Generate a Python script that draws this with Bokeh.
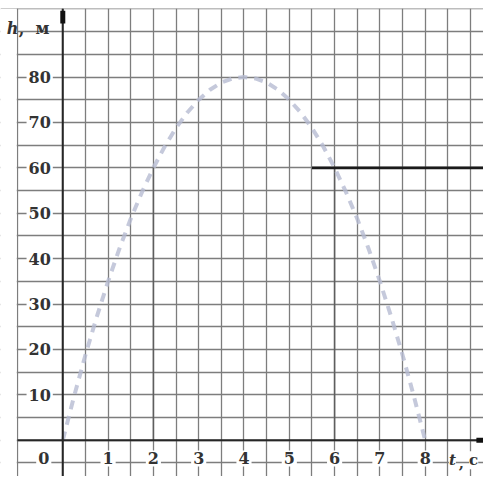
from bokeh.plotting import figure
from bokeh.models import Range1d, Grid, FixedTicker, Label, ColumnDataSource
from bokeh.core.properties import value
from bokeh.embed import file_html
from bokeh.resources import INLINE

# Data: h (m) vs t (s)
t_vals = [0, 0.25, 0.5, 0.75, 1, 1.25, 1.5, 1.75, 2, 2.25, 2.5, 2.75, 3, 3.25, 3.5, 3.75, 4,
          4.25, 4.5, 4.75, 5, 5.25, 5.5, 5.75, 6, 6.25, 6.5, 6.75, 7, 7.25, 7.5, 7.75, 8]
h_vals = [0, 9.7, 18.8, 27.2, 35, 42.2, 48.8, 54.7, 60, 64.7, 68.8, 72.2, 75, 77.2, 78.8, 79.7, 80,
          79.7, 78.8, 77.2, 75, 72.2, 68.8, 64.7, 60, 54.7, 48.8, 42.2, 35, 27.2, 18.8, 9.7, 0]

level_h = 60          # marked height
level_t_start = 5.5   # thick line at 60 starts here

x_tick_vals = [1, 2, 3, 4, 5, 6, 7, 8]
x_tick_labels = ["1", "2", "3", "4", "5", "6", "7", "8"]
y_tick_vals = [10, 20, 30, 40, 50, 60, 70, 80]
y_tick_labels = ["10", "20", "30", "40", "50", "60", "70", "80"]

x_grid = [-1] + [k * 0.5 for k in range(0, 19)]
y_grid = [k * 5 for k in range(-1, 20)]

X0, X1 = -1.375, 9.287
Y0, Y1 = -7.98, 95.1
GRID_LEFT = -1.0

p = figure(width=483, height=476, x_range=Range1d(X0, X1), y_range=Range1d(Y0, Y1),
           x_axis_type=None, y_axis_type=None, toolbar_location=None,
           output_backend="svg", min_border_left=0, min_border_right=0,
           min_border_top=8, min_border_bottom=0)
p.outline_line_color = None
p.background_fill_color = "white"
p.border_fill_color = "white"

grid_color = "#7d7d7d"
p.add_layout(Grid(dimension=0, ticker=FixedTicker(ticks=x_grid),
                  grid_line_color=grid_color, grid_line_width=1.3))
p.add_layout(Grid(dimension=1, ticker=FixedTicker(ticks=y_grid),
                  grid_line_color=grid_color, grid_line_width=1.3))

# blank margin left of the grid's border
p.quad(left=[X0], right=[GRID_LEFT - 0.016], bottom=[Y0], top=[Y1],
       fill_color="white", line_color=None)

# projection lines from the 60 m level
p.segment(x0=[2, 6], y0=[0, 0], x1=[2, 6], y1=[level_h, level_h],
          line_color="#5e5e5e", line_width=1.5)
# thick line at h = 60
p.segment(x0=[level_t_start], y0=[level_h], x1=[X1], y1=[level_h],
          line_color="#1a1a1a", line_width=2.6)

# curve
p.line(t_vals, h_vals, line_color="#b6bbd2", line_width=4, line_dash="9 7", line_alpha=0.8)

# axes
p.segment(x0=[0], y0=[Y0], x1=[0], y1=[Y1], line_color="#262626", line_width=2)
p.segment(x0=[GRID_LEFT], y0=[0], x1=[X1], y1=[0], line_color="#262626", line_width=2.2)
# arrow heads
p.segment(x0=[0], y0=[91.8], x1=[0], y1=[94.6], line_color="#111111", line_width=5)
p.segment(x0=[9.13], y0=[0], x1=[X1], y1=[0], line_color="#111111", line_width=5)

font = value("DejaVu Serif")
lab_kw = dict(text_font=font, text_font_style="bold", text_font_size="16px",
              text_color="#333333", text_align="center", text_baseline="middle",
              background_fill_color="white", padding=2)

ys = ColumnDataSource(dict(x=[-0.51] * len(y_tick_vals), y=y_tick_vals, t=y_tick_labels))
p.text(x="x", y="y", text="t", source=ys, **lab_kw)

xs = ColumnDataSource(dict(x=x_tick_vals + [-0.42], y=[-4.0] * (len(x_tick_vals) + 1),
                           t=x_tick_labels + ["0"]))
p.text(x="x", y="y", text="t", source=xs, **lab_kw)

# axis titles
title_kw = dict(text_font="DejaVu Serif", text_font_size="16px", text_color="#333333",
                text_align="center", text_baseline="alphabetic")
p.add_layout(Label(x=-1.11, y=90.6, text="h", text_font_style="bold italic", **title_kw))
p.add_layout(Label(x=-0.91, y=90.6, text=",", text_font_style="bold", **title_kw))
p.add_layout(Label(x=-0.45, y=90.6, text="м", text_font_style="bold", **title_kw))

end_kw = dict(text_font="DejaVu Serif", text_font_size="15px", text_color="#333333",
              text_align="center", text_baseline="middle")
p.add_layout(Label(x=8.60, y=-4.4, text="t", text_font_style="bold italic",
                   background_fill_color="white", **end_kw))
p.add_layout(Label(x=8.80, y=-4.9, text=",", text_font_style="bold", **end_kw))
p.add_layout(Label(x=9.07, y=-4.4, text="с", text_font_style="bold",
                   background_fill_color="white", **end_kw))

open("out.html", "w").write(file_html(p, INLINE))
